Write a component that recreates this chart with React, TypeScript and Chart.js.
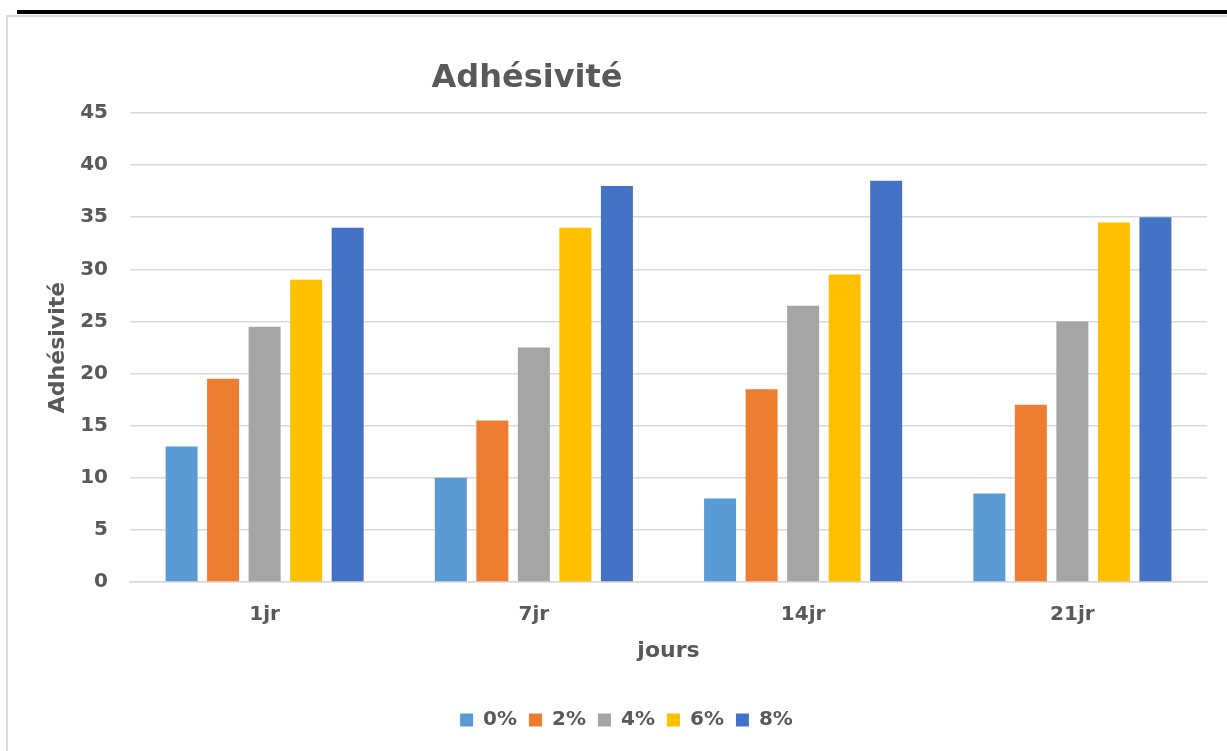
import React, { useEffect, useRef } from "react";
import { Chart, registerables } from "chart.js";

Chart.register(...registerables);

const chartTitle = "Adhésivité";
const yTitle = "Adhésivité";
const xTitle = "jours";
const categories = ["1jr", "7jr", "14jr", "21jr"];
const seriesNames = ["0%", "2%", "4%", "6%", "8%"];
const seriesColors = ["#5B9BD5", "#ED7D31", "#A5A5A5", "#FFC000", "#4472C4"];
const s0 = [13, 10, 8, 8.5];
const s2 = [19.5, 15.5, 18.5, 17];
const s4 = [24.5, 22.5, 26.5, 25];
const s6 = [29, 34, 29.5, 34.5];
const s8 = [34, 38, 38.5, 35];
const seriesValues = [s0, s2, s4, s6, s8];

const FONT = "'DejaVu Sans', 'Noto Sans', sans-serif";
const TEXT = "#595959";

export default function App() {
  const ref = useRef<HTMLCanvasElement | null>(null);

  useEffect(() => {
    if (!ref.current) return;
    const titlePlugin = {
      id: "customTitle",
      afterDraw(chart: any) {
        const ctx = chart.ctx;
        ctx.save();
        ctx.font = `bold 32px ${FONT}`;
        ctx.fillStyle = TEXT;
        ctx.textAlign = "center";
        ctx.textBaseline = "alphabetic";
        ctx.fillText(chartTitle, 501, 69);
        ctx.restore();
      },
    };
    const chart = new Chart(ref.current, {
      type: "bar",
      data: {
        labels: categories,
        datasets: seriesNames.map((name, i) => ({
          label: name,
          data: seriesValues[i],
          backgroundColor: seriesColors[i],
          borderWidth: 0,
          categoryPercentage: 0.771,
          barPercentage: 0.771,
          yAxisID: "y",
        })),
      },
      options: {
        animation: false,
        responsive: false,
        maintainAspectRatio: false,
        layout: { padding: { top: 95, left: 0, right: 0, bottom: 11 } },
        plugins: {
          title: { display: false },
          tooltip: { enabled: false },
          legend: {
            display: true,
            position: "bottom",
            labels: {
              boxWidth: 13,
              boxHeight: 13,
              padding: 12,
              color: TEXT,
              font: { family: FONT, size: 20, weight: "bold" },
            },
          },
        },
        scales: {
          x: {
            grid: { display: false },
            border: { display: true, color: "#d9d9d9", width: 1.5 },
            ticks: {
              color: TEXT,
              padding: 13,
              font: { family: FONT, size: 20, weight: "bold" },
            },
            title: {
              display: true,
              text: xTitle,
              color: TEXT,
              padding: { top: 0, bottom: 34 },
              font: { family: FONT, size: 22, weight: "bold" },
            },
            afterFit(scale: any) {
              scale.height = 116;
            },
          },
          y: {
            min: 0,
            max: 45,
            position: "left",
            grid: { color: "#d9d9d9", lineWidth: 1.5, drawTicks: false },
            border: { display: false },
            ticks: {
              stepSize: 5,
              color: TEXT,
              padding: 22,
              font: { family: FONT, size: 20, weight: "bold" },
            },
            title: {
              display: true,
              text: yTitle,
              color: TEXT,
              padding: { top: 19, bottom: 0 },
              font: { family: FONT, size: 22, weight: "bold" },
            },
            afterFit(scale: any) {
              scale.width = 104;
            },
          },
          y2: {
            position: "right",
            min: 0,
            max: 1,
            grid: { display: false },
            border: { display: false },
            ticks: { display: false },
            afterFit(scale: any) {
              scale.width = 20;
            },
          },
        },
      },
      plugins: [titlePlugin],
    } as any);
    return () => chart.destroy();
  }, []);

  return (
    <div
      style={{
        position: "fixed",
        left: 0,
        top: 0,
        width: 1227,
        height: 751,
        background: "#ffffff",
        overflow: "hidden",
      }}
    >
      <div
        style={{
          position: "absolute",
          left: 17,
          top: 10,
          width: 1210,
          height: 4,
          background: "#000000",
        }}
      />
      <div
        style={{
          position: "absolute",
          left: 6,
          top: 15,
          width: 1230,
          height: 740,
          borderTop: "2px solid #d9d9d9",
          borderLeft: "2px solid #d9d9d9",
        }}
      />
      <canvas
        ref={ref}
        width={1201}
        height={733}
        style={{ position: "absolute", left: 26, top: 18, width: 1201, height: 733 }}
      />
    </div>
  );
}
